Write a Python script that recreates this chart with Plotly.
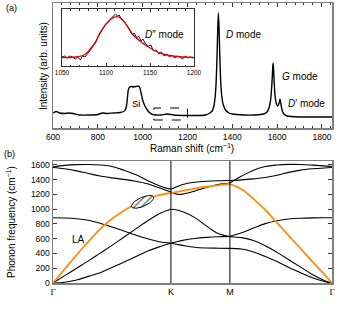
import numpy as np
import plotly.graph_objects as go

W, H = 340, 311

# ---------------- Panel (a): Raman spectrum ----------------
raman_x = [600, 615, 630, 650, 670, 690, 720, 760, 800, 820, 840, 870, 900, 915, 922, 928, 932, 936,
           942, 950, 960, 970, 978, 984, 988, 994, 1000, 1008, 1018, 1030, 1045, 1060, 1080, 1110, 1140, 1200,
           1250, 1280, 1300, 1310, 1318, 1324, 1328, 1332, 1335, 1338, 1341, 1344, 1348, 1353, 1360,
           1370, 1385, 1400, 1450, 1500, 1540, 1555, 1565, 1572, 1577, 1580, 1582, 1584, 1587, 1591,
           1596, 1603, 1609, 1613, 1617, 1622, 1630, 1645, 1700, 1800, 1845]
raman_y = [15, 16.5, 15, 14.5, 15, 14.5, 13, 13, 13.5, 15, 14.5, 15, 15.5, 16.5, 18, 22, 30, 38,
           41, 41.5, 41, 41.5, 42, 41.5, 40, 34, 28, 23, 19, 15.5, 13.5, 13, 13, 14, 13, 12.5,
           12.5, 13, 15, 17, 22, 32, 46, 72, 98, 115, 100, 74, 48, 32, 23,
           18, 15, 14, 13, 13, 14, 16, 21, 30, 45, 58, 65, 60, 45, 32,
           25, 22, 25, 29, 24, 18, 14, 12, 11, 11, 11]

# Inset: D'' mode
inset_x = [1050, 1053, 1056, 1059, 1062, 1065, 1068, 1071, 1073, 1076, 1079, 1082, 1085, 1088, 1091,
           1094, 1097, 1100, 1103, 1106, 1109, 1111, 1113, 1115, 1118, 1121, 1124, 1127, 1130, 1132,
           1135, 1137, 1140, 1142, 1145, 1148, 1151, 1154, 1157, 1160, 1163, 1166, 1169, 1172, 1175,
           1178, 1181, 1184, 1187, 1190, 1193, 1196, 1199]
inset_y = [9, 10, 8, 10, 9, 7, 9, 6, 10, 9, 12, 16, 19, 23, 29,
           34, 38, 42, 44, 48, 51, 52, 50, 51, 46, 44, 40, 36, 31, 33,
           28, 30, 25, 27, 22, 20, 21, 15, 16, 12, 14, 10, 12, 9, 11,
           8, 10, 9, 7, 10, 8, 9, 8]
fit_x = [1050, 1065, 1075, 1082, 1088, 1093, 1100, 1106, 1112, 1118, 1125, 1131, 1140, 1150, 1160,
         1169, 1180, 1200]
fit_y = [8.5, 9, 11, 17, 24, 33, 42, 47, 49.3, 47, 39, 31, 24, 18, 13.5, 11, 9.5, 8.5]

# ---------------- Panel (b): phonon dispersion ----------------
seg_len = [1.0, 0.5, 0.866]           # Γ-K, K-M, M-Γ
gk_f = [0, 0.1, 0.2, 0.3, 0.4, 0.5, 0.6, 0.7, 0.8, 0.9, 1.0]
km_f = [0, 0.1, 0.2, 0.4, 0.6, 0.8, 1.0]
mg_f = [0, 0.1155, 0.2309, 0.3464, 0.4619, 0.5774, 0.6928, 0.8083, 0.9238, 1.0]

ZA = ([0, 10, 40, 90, 140, 210, 280, 355, 430, 490, 540],
      [540, 525, 510, 485, 475, 472, 470],
      [470, 460, 420, 360, 290, 210, 140, 70, 20, 0])
TA = ([0, 100, 200, 300, 405, 510, 620, 730, 840, 940, 1000],
      [1000, 990, 965, 890, 775, 670, 628],
      [628, 615, 575, 505, 415, 315, 215, 115, 35, 0])
ZO = ([885, 882, 872, 850, 810, 760, 705, 650, 600, 560, 540],
      [540, 560, 578, 603, 618, 627, 632],
      [632, 680, 745, 805, 845, 868, 878, 883, 885, 885])
OA = ([1575, 1595, 1605, 1607, 1600, 1580, 1530, 1470, 1390, 1320, 1270],
      [1270, 1305, 1335, 1365, 1380, 1387, 1390],
      [1390, 1398, 1412, 1430, 1460, 1500, 1530, 1548, 1560, 1565])
OB = ([1565, 1548, 1520, 1485, 1450, 1425, 1405, 1380, 1345, 1290, 1235],
      [1235, 1205, 1205, 1245, 1295, 1335, 1355],
      [1355, 1450, 1530, 1580, 1600, 1608, 1606, 1598, 1588, 1578])
LA = ([0, 190, 380, 560, 730, 870, 980, 1070, 1140, 1190, 1220],
      [1220, 1235, 1250, 1280, 1305, 1325, 1340],
      [1340, 1270, 1140, 990, 815, 640, 465, 290, 116, 0])

sym_labels = ["Γ", "K", "M", "Γ"]
freq_ticks = [0, 200, 400, 600, 800, 1000, 1200, 1400, 1600]
raman_ticks = [600, 800, 1000, 1200, 1400, 1600, 1800]
inset_ticks = [1050, 1100, 1150, 1200]

# ---------------- helpers ----------------
def px(x, y):
    return x / W, 1 - y / H

starts = np.concatenate([[0], np.cumsum(seg_len)])
k_gk = [starts[0] + f * seg_len[0] for f in gk_f]
k_km = [starts[1] + f * seg_len[1] for f in km_f]
k_mg = [starts[2] + f * seg_len[2] for f in mg_f]

fig = go.Figure()
FONT = "Liberation Sans"
BLACK = "#000000"
ORANGE = "#ff8c0f"
FRAME = "#7f7f7f"

fig.add_trace(go.Scatter(x=raman_x, y=raman_y, mode="lines", line=dict(color=BLACK, width=1.4, shape="spline", smoothing=0.5),
                         xaxis="x", yaxis="y", showlegend=False, hoverinfo="skip"))
fig.add_trace(go.Scatter(x=inset_x, y=inset_y, mode="lines", line=dict(color=BLACK, width=0.9),
                         xaxis="x3", yaxis="y3", showlegend=False, hoverinfo="skip"))
fig.add_trace(go.Scatter(x=fit_x, y=fit_y, mode="lines", line=dict(color="#e8000b", width=1.3, shape="spline"),
                         xaxis="x3", yaxis="y3", showlegend=False, hoverinfo="skip"))

for br in (ZA, TA, ZO, OA, OB):
    for kk, vv in zip((k_gk, k_km, k_mg), br):
        fig.add_trace(go.Scatter(x=kk, y=vv, mode="lines", line=dict(color=BLACK, width=1.1, shape="spline"),
                                 xaxis="x2", yaxis="y2", showlegend=False, hoverinfo="skip"))
for kk, vv in zip((k_gk, k_km, k_mg), LA):
    fig.add_trace(go.Scatter(x=kk, y=vv, mode="lines", line=dict(color=ORANGE, width=1.8, shape="spline"),
                             xaxis="x2", yaxis="y2", showlegend=False, hoverinfo="skip"))

# hatched ellipse (decoration) around LA branch near k=0.76
t = np.linspace(0, 2 * np.pi, 60)
ang = np.deg2rad(24)
a_px, b_px = 12, 4.5
dx = a_px * np.cos(t) * np.cos(ang) - b_px * np.sin(t) * np.sin(ang)
dy = a_px * np.cos(t) * np.sin(ang) + b_px * np.sin(t) * np.cos(ang)
xpx_per_k = (332 - 53) / starts[-1]
ypx_per_w = (283 - 161) / 1654
fig.add_trace(go.Scatter(x=0.76 + dx / xpx_per_k, y=1100 + dy / ypx_per_w, mode="lines", fill="toself",
                         fillpattern=dict(shape="/", fgcolor=BLACK, bgcolor="white", size=5, solidity=0.3),
                         line=dict(color=BLACK, width=1), xaxis="x2", yaxis="y2", showlegend=False, hoverinfo="skip"))

axis_common = dict(showgrid=False, zeroline=False, showline=True, linecolor=FRAME, linewidth=1.5, automargin=False)

serif_labels = [f'<span style="font-family:Liberation Serif">{s}</span>' if s == "Γ" else s for s in sym_labels]

fig.update_layout(
    width=W, height=H, margin=dict(l=0, r=0, t=0, b=0, autoexpand=False),
    paper_bgcolor="white", plot_bgcolor="white",
    font=dict(family=FONT, size=8.5, color=BLACK),
    xaxis=dict(domain=[53 / W, 332 / W], anchor="y", range=[600, 1845], tickvals=raman_ticks,
               ticks="inside", ticklen=4, tickcolor="#333", mirror="ticks",
               minor=dict(dtick=40, tick0=600, ticks="inside", ticklen=2, tickcolor="#333"),
               tickfont=dict(size=8.5), **axis_common),
    yaxis=dict(domain=[1 - 128 / H, 1 - 3 / H], anchor="x", range=[0, 125], showticklabels=False,
               ticks="", mirror=True, **axis_common),
    xaxis2=dict(domain=[53 / W, 332 / W], anchor="y2", range=[0, starts[-1]], tickvals=list(starts),
                ticktext=serif_labels, ticks="", mirror=True, tickfont=dict(size=9),
                ticklabeloverflow="allow", **axis_common),
    yaxis2=dict(domain=[1 - 283 / H, 1 - 161 / H], anchor="x2", range=[0, 1654], tickvals=freq_ticks,
                ticks="inside", ticklen=4, tickcolor="#333", mirror="ticks", tickfont=dict(size=8.5), **axis_common),
    xaxis3=dict(domain=[62 / W, 194 / W], anchor="y3", range=[1050, 1200], tickvals=inset_ticks,
                ticks="inside", ticklen=3, tickcolor="#222", mirror="ticks",
                minor=dict(dtick=10, tick0=1050, ticks="inside", ticklen=1.5, tickcolor="#222"),
                tickfont=dict(size=6.5), showgrid=False, zeroline=False, showline=True,
                linecolor="#333", linewidth=1, automargin=False),
    yaxis3=dict(domain=[1 - 66 / H, 1 - 9 / H], anchor="x3", range=[0, 57], showticklabels=False, ticks="",
                mirror=True, showgrid=False, zeroline=False, showline=True, linecolor="#333", linewidth=1,
                automargin=False),
)

# vertical lines at K and M
for kv in starts[1:3]:
    fig.add_shape(type="line", xref="x2", yref="y2", x0=kv, x1=kv, y0=0, y1=1654,
                  line=dict(color=BLACK, width=1))

# dashed box marking the inset region
fig.add_shape(type="rect", xref="x", yref="y", x0=1050, x1=1200, y0=8, y1=20,
              line=dict(color=BLACK, width=1, dash="dash"))

def ann(text, x, y, size=9, angle=0, **kw):
    xp, yp = px(x, y)
    fig.add_annotation(text=text, x=xp, y=yp, xref="paper", yref="paper", showarrow=False,
                       font=dict(size=size, family=FONT, color=BLACK), textangle=angle,
                       xanchor="center", yanchor="middle", **kw)

ann("(a)", 11, 8, 9)
ann("(b)", 9, 154, 9)
ann("Intensity (arb. units)", 43, 66, 10, angle=-90)
ann("Raman shift (cm<sup>−1</sup>)", 192, 148, 10)
ann("Phonon frequency (cm<sup>−1</sup>)", 11, 222, 10, angle=-90)
ann("<i>D</i> mode", 243, 35, 10)
ann("<i>G</i> mode", 300, 77, 10)
ann("<i>D</i>′ mode", 306, 103, 10)
ann("Si", 136, 103, 9.5)
ann("<i>D</i>″ mode", 164, 35, 10)
ann("LA", 78, 240, 10)

fig.write_html("out.html", config={"displayModeBar": False, "staticPlot": True},
               post_script="document.body.style.margin='0';document.body.style.overflow='hidden';")
